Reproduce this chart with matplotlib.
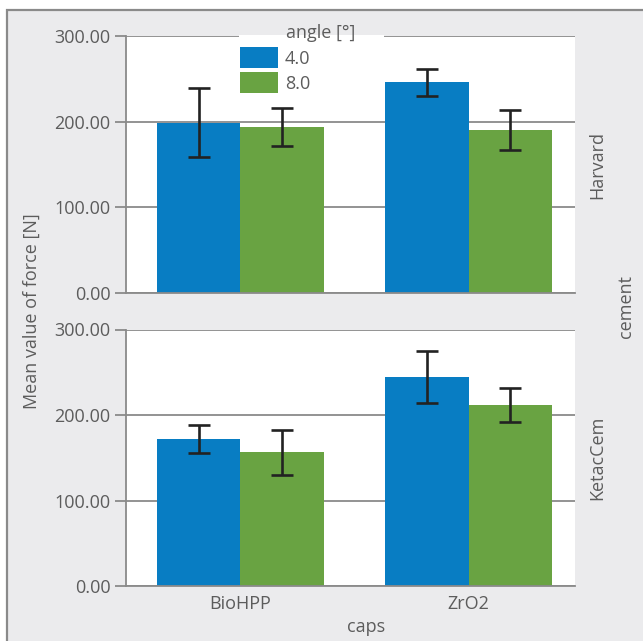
import matplotlib
matplotlib.use("Agg")
import matplotlib.pyplot as plt
from matplotlib.patches import Rectangle, Patch
import numpy as np

plt.rcParams['font.family'] = ['Open Sans', 'DejaVu Sans']

caps = ["BioHPP", "ZrO2"]
angles = ["4.0", "8.0"]
cements = ["Harvard", "KetacCem"]
# means[cement][angle] -> values per cap
means = {
    "Harvard": {"4.0": [199, 246], "8.0": [193.5, 190.5]},
    "KetacCem": {"4.0": [172, 245], "8.0": [156.5, 212]},
}
err_low = {
    "Harvard": {"4.0": [159, 229.5], "8.0": [171.5, 167.5]},
    "KetacCem": {"4.0": [155.7, 214.5], "8.0": [130.3, 192.3]},
}
err_high = {
    "Harvard": {"4.0": [239, 262], "8.0": [215.5, 213.5]},
    "KetacCem": {"4.0": [188.8, 275.4], "8.0": [183, 231.3]},
}
yticks = [0, 100, 200, 300]
ytick_labels = ["0.00", "100.00", "200.00", "300.00"]

colors = {"4.0": "#087dc3", "8.0": "#69a342"}
txt = "#5c5c5c"
gray = "#8a8a8a"
W, H = 643, 641

fig = plt.figure(figsize=(W / 100, H / 100), dpi=100)
fig.patch.set_facecolor("white")
fig.patches.append(Rectangle((7 / W, -0.05), 1.2, 1 - 10 / H + 0.05,
                             transform=fig.transFigure, facecolor="#ebebed",
                             edgecolor=gray, lw=1.6, zorder=-10))

fs = 13
left, right = 126 / W, 575 / W
tops = [36, 329.5]
bots = [293, 586.3]
bw = 0.366
x = np.arange(len(caps))
axes = []
for i, cem in enumerate(cements):
    ax = fig.add_axes([left, 1 - bots[i] / H, right - left, (bots[i] - tops[i]) / H])
    ax.set_zorder(1)
    ax.set_facecolor("white")
    ax.set_ylim(0, 300)
    ax.set_xlim(-0.502, 1.467)
    for j, ang in enumerate(angles):
        off = (j - 0.5) * bw
        m = np.array(means[cem][ang])
        lo = m - np.array(err_low[cem][ang])
        hi = np.array(err_high[cem][ang]) - m
        ax.bar(x + off, m, width=bw, color=colors[ang], zorder=2)
        ax.errorbar(x + off, m, yerr=[lo, hi], fmt="none", ecolor="#222222",
                    elinewidth=1.9, capsize=8, capthick=1.9, zorder=3)
    ax.set_yticks(yticks)
    ax.set_yticklabels(ytick_labels)
    ax.yaxis.grid(True, color=gray, lw=1.3, zorder=1)
    ax.set_axisbelow(True)
    for s in ["top", "right"]:
        ax.spines[s].set_visible(False)
    for s in ["left", "bottom"]:
        ax.spines[s].set_color(gray)
        ax.spines[s].set_linewidth(1.3)
    ax.tick_params(axis="y", length=8, width=1.3, color=gray, labelcolor=txt,
                   labelsize=fs, pad=3)
    ax.tick_params(axis="x", length=0, labelcolor=txt, labelsize=fs, pad=6)
    ax.set_xticks(x)
    if i == 0:
        ax.set_xticklabels([])
    else:
        ax.set_xticklabels(caps)
    fig.text(597 / W, 1 - ((tops[i] + bots[i]) / 2) / H, cem, rotation=90,
             ha="center", va="center", color=txt, fontsize=fs)
    axes.append(ax)

# legend
ax0 = axes[0]
# white legend background box covering the top grid line
ax0.add_patch(Rectangle(((239 - 126) / (575 - 126), 0.72), (384 - 239) / (575 - 126),
                        0.283, transform=ax0.transAxes, facecolor="white",
                        edgecolor="none", zorder=1.5, clip_on=False))
handles = [Patch(facecolor=colors[a], edgecolor="none") for a in angles]
leg = ax0.legend(handles, angles, loc="upper left",
                 bbox_to_anchor=(240 / W, 1 - 47 / H),
                 bbox_transform=fig.transFigure,
                 frameon=False, fontsize=fs, labelcolor=txt,
                 handlelength=2.1, handleheight=1.45, handletextpad=0.39,
                 borderpad=0, labelspacing=0.2, borderaxespad=0)
leg.set_zorder(5)
fig.text(321 / W, 1 - 33 / H, "angle [°]", ha="center", va="center",
         color=txt, fontsize=fs, zorder=10)

fig.text(32 / W, 1 - 311 / H, "Mean value of force [N]", rotation=90,
         ha="center", va="center", color=txt, fontsize=fs)
fig.text(366 / W, 1 - 627 / H, "caps", ha="center", va="center",
         color=txt, fontsize=fs)
fig.text(626 / W, 1 - 307 / H, "cement", rotation=90, ha="center",
         va="center", color=txt, fontsize=fs)

fig.savefig("out.png", dpi=100)
